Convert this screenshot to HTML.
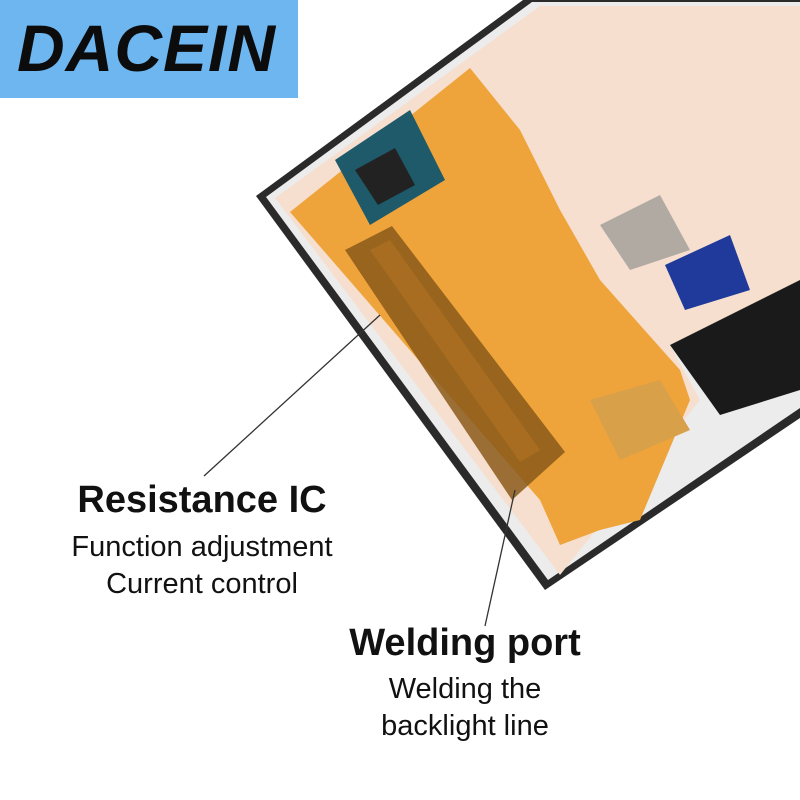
<!DOCTYPE html>
<html><head><meta charset="utf-8"><style>
html,body{margin:0;padding:0;background:#fff;}
.wrap{position:relative;width:800px;height:800px;overflow:hidden;background:#fff;font-family:"Liberation Sans",sans-serif;}
.logo{position:absolute;left:0;top:0;width:298px;height:98px;background:#6db6ef;}
.logo span{position:absolute;left:17px;top:10px;font-size:66px;font-weight:bold;font-style:italic;color:#0c0c0c;letter-spacing:1px;}
.t{position:absolute;text-align:center;color:#111;white-space:nowrap;}
.b{font-weight:bold;font-size:38px;}
.n{font-size:29px;}
</style></head><body><div class="wrap">
<svg width="800" height="800" style="position:absolute;left:0;top:0">
<polygon points="256,196 523,0 800,0 800,418 545,590" fill="#2a2a2a"/>
<polygon points="266,197 532,2 800,2 800,408 548,580" fill="#ececec"/>
<polygon points="275,198 540,6 800,6 800,300 670,345 700,400 560,575" fill="#f6dfcf"/>
<polygon points="670,345 800,280 800,390 720,415" fill="#1a1a1a"/>
<polygon points="600,225 660,195 690,250 630,270" fill="#b0aaa2"/>
<polygon points="665,265 730,235 750,290 685,310" fill="#1f3a9a"/>
<polygon points="290,212 470,68 520,130 560,210 600,280 680,370 690,400 640,520 600,530 560,545 540,500" fill="#eea43a"/>
<polygon points="335,160 410,110 445,180 370,225" fill="#1e5a6a"/>
<polygon points="355,170 395,148 415,185 378,205" fill="#222"/>
<polygon points="590,400 660,380 690,430 620,460" fill="#d9a04a"/>
<polygon points="345,250 392,226 565,452 512,500" fill="#8a5a1a" opacity="0.85"/>
<polygon points="370,250 390,240 540,450 520,462" fill="#a86d20"/>
<line x1="380" y1="315" x2="204" y2="476" stroke="#333" stroke-width="1.3"/>
<line x1="515" y1="490" x2="485" y2="626" stroke="#333" stroke-width="1.3"/>
</svg>
<div class="logo"><span>DACEIN</span></div>
<div class="t b" style="left:0;width:404px;top:479px;">Resistance IC</div>
<div class="t n" style="left:0;width:404px;top:531px;">Function adjustment</div>
<div class="t n" style="left:0;width:404px;top:568px;">Current control</div>
<div class="t b" style="left:265px;width:400px;top:622px;">Welding port</div>
<div class="t n" style="left:265px;width:400px;top:673px;">Welding the</div>
<div class="t n" style="left:265px;width:400px;top:710px;">backlight line</div>
</div></body></html>
